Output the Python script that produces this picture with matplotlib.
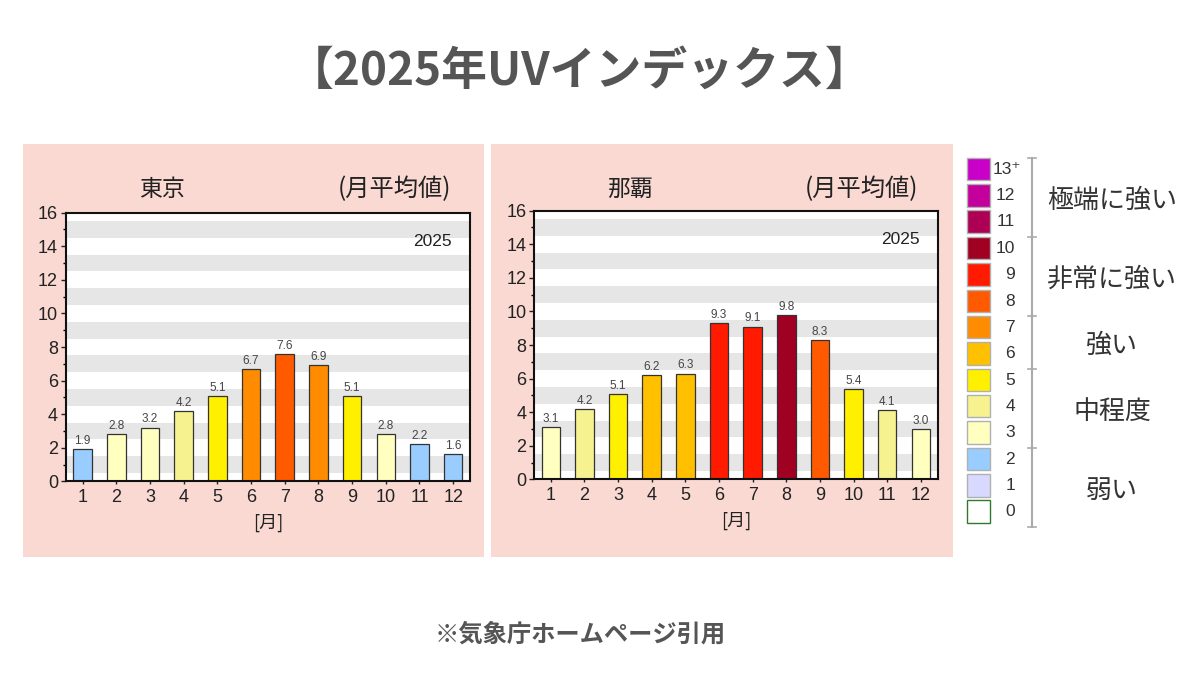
import numpy as np
import matplotlib
matplotlib.use("Agg")
import matplotlib.pyplot as plt
from matplotlib.patches import Rectangle

plt.rcParams['font.family'] = ['Noto Sans CJK JP', 'DejaVu Sans']

# data
months = [1, 2, 3, 4, 5, 6, 7, 8, 9, 10, 11, 12]
tokyo_uv = [1.9, 2.8, 3.2, 4.2, 5.1, 6.7, 7.6, 6.9, 5.1, 2.8, 2.2, 1.6]
naha_uv = [3.1, 4.2, 5.1, 6.2, 6.3, 9.3, 9.1, 9.8, 8.3, 5.4, 4.1, 3.0]
cities = ['東京', '那覇']
year_label = '2025'

# legend levels 0..13+
levels = ['0', '1', '2', '3', '4', '5', '6', '7', '8', '9', '10', '11', '12', '13⁺']
groups = ['弱い', '中程度', '強い', '非常に強い', '極端に強い']
group_ranges = [(0, 2), (3, 5), (6, 7), (8, 10), (11, 13)]

level_colors = ['#ffffff', '#d9d9ff', '#99ccff', '#ffffc0', '#f7f290', '#fff000',
                '#ffc000', '#ff8c00', '#ff5a00', '#ff1a00', '#a00022', '#ad0055',
                '#c4009c', '#c800c8']

W, H = 1200, 675
fig = plt.figure(figsize=(12, 6.75), dpi=100)
fig.patch.set_facecolor('white')


def fx(x):
    return x / W


def fy(y):
    return 1 - y / H


PINK = '#f9d9d2'
TXT = '#222222'

# pink panels
for (x0, x1) in [(23, 484), (491, 953)]:
    fig.patches.append(Rectangle((fx(x0), fy(557)), fx(x1) - fx(x0), fy(144) - fy(557),
                                 transform=fig.transFigure, facecolor=PINK,
                                 edgecolor='none', zorder=-5))

axes_px = [(65.7, 212.7, 470, 481.3), (534, 210.7, 937.7, 479.3)]
data = [tokyo_uv, naha_uv]

for i, (l, t, r, b) in enumerate(axes_px):
    ax = fig.add_axes([fx(l), fy(b), fx(r) - fx(l), fy(t) - fy(b)], zorder=2)
    vals = data[i]
    ax.set_xlim(0.5, 12.5)
    ax.set_ylim(0, 16)
    for k in range(8):
        ax.axhspan(2 * k + 0.5, 2 * k + 1.5, color='#e6e6e6', lw=0, zorder=0)
    cols = [level_colors[min(int(np.floor(v + 0.5)), 13)] for v in vals]
    bars = ax.bar(months, vals, width=0.55, color=cols, edgecolor='#333333',
                  linewidth=0.9, zorder=2)
    for m, v in zip(months, vals):
        ax.annotate('%.1f' % v, (m, v), xytext=(0, 1.5), textcoords='offset points',
                    ha='center', va='bottom', fontsize=8.5, color='#444444',
                    family='Liberation Sans', zorder=3)
    ax.set_xticks(months)
    ax.set_xticklabels([str(m) for m in months])
    ax.set_yticks(range(0, 17, 2))
    ax.set_yticks(range(1, 16, 2), minor=True)
    ax.tick_params(axis='both', which='major', labelsize=13, colors=TXT,
                   direction='out', length=3.5, width=1, pad=2)
    ax.tick_params(axis='x', length=2.5, pad=3)
    ax.tick_params(axis='y', which='minor', length=2.5, width=1, direction='out')
    for sp in ax.spines.values():
        sp.set_linewidth(1.5)
        sp.set_color('#111111')
    for lab in ax.get_xticklabels() + ax.get_yticklabels():
        lab.set_family('Liberation Sans')
    ax.text(0.5, -0.155, '[月]', transform=ax.transAxes, ha='center', va='center',
            fontsize=13, color=TXT)
    ax.text(0.955, 0.893, year_label, transform=ax.transAxes, ha='right', va='center',
            fontsize=12.5, color=TXT, family='Liberation Sans')
    ax.set_facecolor('white')
    # panel headings
    fig.text(fx(l + 96), fy(189), cities[i], ha='center', va='center',
             fontsize=16.5, color=TXT)
    fig.text(fx(r - 19), fy(189), '(月平均値)', ha='right', va='center',
             fontsize=17.5, color=TXT)

# legend
lg = fig.add_axes([fx(955), fy(545), fx(1195) - fx(955), fy(145) - fy(545)])
lg.set_xlim(955, 1195)
lg.set_ylim(545, 145)
lg.axis('off')
top = 157.7
pitch = 26.36
for j in range(14):
    lev = 13 - j
    y0 = top + j * pitch
    ec = '#2f7a2f' if lev == 0 else '#b0b0b0'
    lg.add_patch(Rectangle((967, y0), 23, 22.5, facecolor=level_colors[lev],
                           edgecolor=ec, linewidth=1.0))
    xr = 1021 if lev == 13 else 1015
    lg.text(xr, y0 + 11.5, levels[lev], ha='right', va='center', fontsize=12.5,
            color='#333333', family=['Liberation Sans', 'DejaVu Sans'])

bx = 1032
lg.plot([bx, bx], [top, top + 14 * pitch], color='#aaaaaa', lw=1.5)
for j in [0, 3, 6, 8, 11, 14]:
    yy = top + j * pitch
    lg.plot([bx - 4, bx + 4], [yy, yy], color='#aaaaaa', lw=1.2)
for g, (lo, hi) in zip(groups, group_ranges):
    jtop = 13 - hi
    jbot = 13 - lo + 1
    ym = top + (jtop + jbot) / 2 * pitch + 3
    lg.text(1112, ym, g, ha='center', va='center', fontsize=18.7, color='#333333')

# title and footer
fig.text(fx(580), fy(72), '【2025年UVインデックス】', ha='center', va='center',
         fontsize=33, fontweight='bold', color='#555555')
fig.text(fx(580), fy(635), '※気象庁ホームページ引用', ha='center', va='center',
         fontsize=17.5, fontweight='bold', color='#555555')

fig.savefig('out.png', dpi=100)
